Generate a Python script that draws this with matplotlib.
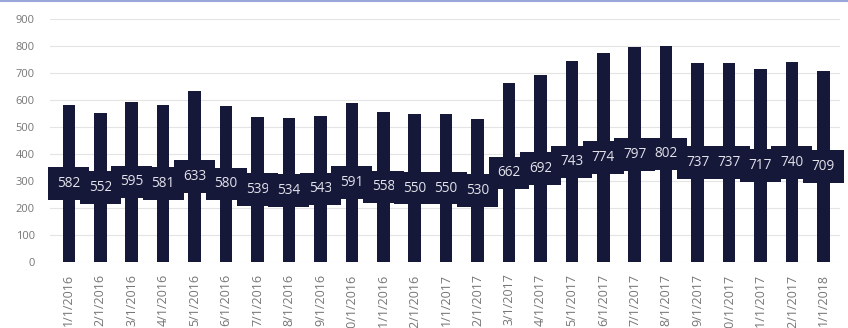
import matplotlib.pyplot as plt
from matplotlib.lines import Line2D

months = ["1/1/2016", "2/1/2016", "3/1/2016", "4/1/2016", "5/1/2016", "6/1/2016",
          "7/1/2016", "8/1/2016", "9/1/2016", "10/1/2016", "11/1/2016", "12/1/2016",
          "1/1/2017", "2/1/2017", "3/1/2017", "4/1/2017", "5/1/2017", "6/1/2017",
          "7/1/2017", "8/1/2017", "9/1/2017", "10/1/2017", "11/1/2017", "12/1/2017",
          "1/1/2018"]
counts = [582, 552, 595, 581, 633, 580, 539, 534, 543, 591, 558, 550,
          550, 530, 662, 692, 743, 774, 797, 802, 737, 737, 717, 740, 709]
yticks = [0, 100, 200, 300, 400, 500, 600, 700, 800, 900]

navy = "#16183a"
plt.rcParams["font.family"] = ["Open Sans", "DejaVu Sans"]

fig = plt.figure(figsize=(8.48, 3.28), dpi=100)
ax = fig.add_axes([0.059, 0.2, 0.932, 0.742])

x = list(range(len(months)))
ax.bar(x, counts, width=0.4, color=navy, zorder=2)

# value labels sit halfway up each bar on a dark box
for xi, v in zip(x, counts):
    ax.text(xi, v / 2, str(v), ha="center", va="center", fontsize=9.8,
            color="#e2e2ea", zorder=3,
            bbox=dict(boxstyle="square,pad=0.65", fc=navy, ec="none"))

ax.set_ylim(0, 900)
ax.set_xlim(-0.6, len(months) - 1 + 0.54)
ax.set_yticks(yticks)
ax.set_yticklabels([str(t) for t in yticks])
ax.set_xticks(x)
ax.set_xticklabels(months, rotation=90, va="top", ha="center")
ax.tick_params(axis="both", length=0, labelsize=9, labelcolor="#767676")
ax.tick_params(axis="y", pad=11, labelsize=8)
ax.tick_params(axis="x", pad=8)
ax.grid(axis="y", color="#e4e4e4", linewidth=0.8, zorder=0)
for s in ax.spines.values():
    s.set_visible(False)

# thin accent line along the top edge
fig.add_artist(Line2D([0, 1], [0.996, 0.996], transform=fig.transFigure,
                      color="#9ba7d8", linewidth=1.5))

fig.savefig("out.png", dpi=100)
